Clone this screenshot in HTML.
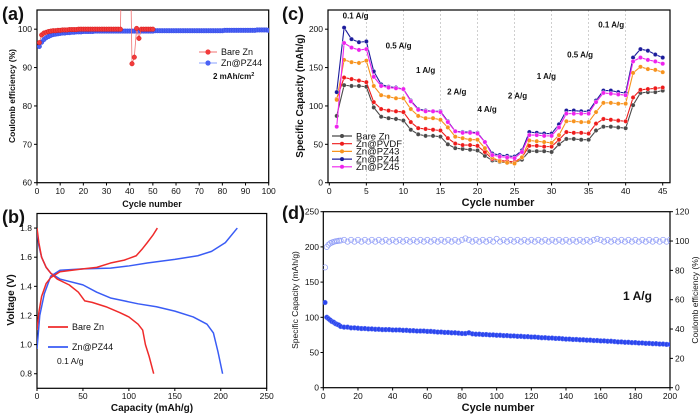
<!DOCTYPE html>
<html><head><meta charset="utf-8">
<style>
html,body{margin:0;padding:0;background:#fff;}
svg{display:block;font-family:"Liberation Sans",Arial,sans-serif;}
</style></head>
<body>
<svg id="fig" width="700" height="414" viewBox="0 0 700 414" xmlns="http://www.w3.org/2000/svg">
<defs>
<clipPath id="clipA"><rect x="37" y="10" width="232" height="173"/></clipPath>
<clipPath id="clipB"><rect x="37" y="213" width="230" height="175"/></clipPath>
<clipPath id="clipC"><rect x="329" y="10" width="341" height="173"/></clipPath>
<clipPath id="clipD"><rect x="323" y="211" width="347" height="177"/></clipPath>
</defs>
</svg>
<script>
// ---------- panel (a) data ----------
const aCyclesRed = [1,2,3,4,5,6,7,8,9,10,11,12,13,14,15,16,17,18,19,20,21,22,23,24,25,26,27,28,29,30,31,32,33,34,35,36,37,38,39,40,41,42,43,44,45,46,47,48,49,50];
const aBareCE = [96.5,98.5,99,99.2,99.4,99.5,99.6,99.6,99.7,99.7,99.8,99.8,99.8,99.9,99.9,99.9,99.9,100,100,100,100,100,100,100,100,100,100,100,100,100,100,100,100,100,100,100,130,130,130,130,91,92.7,100.2,97.6,100,100,100,100,100,100];
const aPZ44CE = [95.5,96.6,97.3,97.8,98.1,98.4,98.6,98.7,98.8,98.9,99.0,99.0,99.1,99.1,99.2,99.2,99.3,99.3,99.3,99.4,99.4,99.4,99.4,99.4,99.5,99.5,99.5,99.5,99.5,99.5,99.5,99.5,99.5,99.5,99.5,99.5,99.5,99.5,99.5,99.5,99.5,99.5,99.5,99.5,99.5,99.5,99.5,99.5,99.5,99.5,99.6,99.6,99.6,99.6,99.6,99.6,99.6,99.6,99.6,99.6,99.6,99.6,99.6,99.6,99.6,99.6,99.6,99.6,99.6,99.6,99.6,99.6,99.6,99.6,99.6,99.6,99.6,99.6,99.6,99.6,99.7,99.7,99.7,99.7,99.7,99.7,99.7,99.7,99.7,99.7,99.7,99.7,99.7,99.7,99.8,99.8,99.8,99.8,99.8,99.7];
const aXTicks = [0,10,20,30,40,50,60,70,80,90,100];
const aYTicks = [60,70,80,90,100];

// ---------- panel (b) data ----------
const bBareChgX = [0,2,5,10,15,25,50,65,80,95,108,115,120,126,131];
const bBareChgY = [1.1,1.22,1.33,1.42,1.46,1.5,1.52,1.53,1.56,1.58,1.61,1.66,1.7,1.75,1.8];
const bBareDisX = [0,2,5,10,15,22,35,45,52,60,75,90,100,110,115,118,122,127];
const bBareDisY = [1.8,1.7,1.6,1.53,1.49,1.45,1.41,1.36,1.3,1.29,1.26,1.22,1.19,1.14,1.1,1.0,0.92,0.8];
const bPZChgX = [0,3,8,15,25,50,80,100,120,150,175,190,205,218];
const bPZChgY = [0.97,1.2,1.35,1.47,1.51,1.52,1.525,1.54,1.56,1.585,1.61,1.64,1.7,1.8];
const bPZDisX = [0,2,5,10,15,25,50,65,80,95,110,130,150,170,185,192,197,202];
const bPZDisY = [1.78,1.68,1.6,1.53,1.49,1.45,1.41,1.36,1.32,1.3,1.28,1.26,1.23,1.19,1.14,1.08,0.95,0.8];
const bXTicks = [0,50,100,150,200,250];
const bYTicks = [0.8,1.0,1.2,1.4,1.6,1.8];

// ---------- panel (c) data ----------
const cSeriesNames = ["Bare Zn","Zn@PVDF","Zn@PZ43","Zn@PZ44","Zn@PZ45"];
const cBare = [87,127,126,126,125,98,86,84,83,81,69,63,61,61,60,50,45,44,43,42,35,29,27,26,26,30,41,41,41,40,50,57,57,56,56,68,73,73,72,71,101,117,118,118,120];
const cPVDF = [109,137,135,133,131,105,96,94,93,92,79,71,70,69,68,58,51,49,49,48,40,31,29,28,27,33,48,48,47,47,56,66,65,65,64,77,83,82,81,80,111,121,122,123,124];
const cPZ43 = [108,160,157,156,159,126,114,112,110,110,96,87,84,84,82,72,60,58,56,56,45,33,28,26,25,33,55,54,53,52,62,80,80,79,79,92,104,104,103,103,143,151,148,147,144];
const cPZ44 = [118,202,187,183,184,145,128,125,124,122,107,96,94,93,93,80,67,66,66,65,53,38,36,35,34,42,66,65,64,64,76,94,94,93,93,107,120,120,118,117,163,174,172,167,163];
const cPZ45 = [73,182,176,173,174,138,126,124,123,122,106,95,93,93,92,79,67,65,65,64,53,36,34,33,32,40,62,62,61,61,72,90,90,90,90,105,117,116,115,114,158,163,160,158,155];
const cXTicks = [0,5,10,15,20,25,30,35,40,45];
const cYTicks = [0,50,100,150,200];
const cRateLabels = ["0.1 A/g","0.5 A/g","1 A/g","2 A/g","4 A/g","2 A/g","1 A/g","0.5 A/g","0.1 A/g"];
const cRateX = [1.8,7.6,11.7,15.9,20,24.1,28,32.1,36.3];
const cRateY = [214,175,143,115,92,110,135,163,202];

// ---------- panel (d) data ----------
const dCycles = [1,2,3,4,5,6,7,8,9,10,12,14,16,18,20,22,24,26,28,30,32,34,36,38,40,42,44,46,48,50,52,54,56,58,60,62,64,66,68,70,72,74,76,78,80,82,84,86,88,90,92,94,96,98,100,102,104,106,108,110,112,114,116,118,120,122,124,126,128,130,132,134,136,138,140,142,144,146,148,150,152,154,156,158,160,162,164,166,168,170,172,174,176,178,180,182,184,186,188,190,192,194,196,198,200];
const dCap = [121,100,98,96,94,93,91,90,89,87,86,86,85,85,84.5,84,84,83.5,83.5,83,83,82.5,82.5,82.5,82,82,82,81.5,81.5,81,81,80.5,80.5,80.5,80,80,79.5,79,79,78.5,78.5,78,78,77.5,77,77,78,76.5,76,76,75.5,75.5,75,75,74.5,74.5,74,74,73.5,73.5,73,73,72.5,72.5,72,72,71.5,71,71,70.5,70.5,70,70,69.5,69,69,68.5,68.5,68,68,67.5,67.5,67,67,66.5,66.5,66,66,65.5,65,65,64.5,64.5,64,64,63.5,63.5,63,63,62.5,62.5,62,62,61.5,61.5];
const dCE = [82,96,97.5,98.5,99,99.5,99.8,100,100.2,100.3,100.8,99.6,100.8,99.6,100.8,99.6,100.8,99.6,100.8,99.6,100.8,99.6,100.8,99.6,100.8,99.6,100.8,99.6,100.8,99.6,100.8,99.6,100.8,99.6,100.8,99.6,100.8,99.6,100.8,99.6,100.8,99.6,100.8,99.6,100.8,101.8,100.8,99.6,100.8,99.6,100.8,99.6,100.8,99.6,101.5,99.6,100.8,99.6,100.8,99.6,100.8,99.6,100.8,99.6,100.8,99.6,100.8,99.6,100.8,99.6,100.8,99.6,100.8,99.6,100.8,99.6,100.8,99.6,100.8,99.6,100.8,99.6,100.8,101.5,100.8,99.6,100.8,99.6,100.8,99.6,100.8,99.6,100.8,99.6,100.8,99.6,100.8,99.6,100.8,99.6,100.8,99.6,100.8,99.6,100.8];
const dXTicks = [0,20,40,60,80,100,120,140,160,180,200];
const dYTicks = [0,50,100,150,200,250];
const dY2Ticks = [0,20,40,60,80,100,120];

// ---------- helpers ----------
const NS = "http://www.w3.org/2000/svg";
const fig = document.getElementById("fig");
const TF = 8.5;
function el(tag, attrs, parent) {
  const e = document.createElementNS(NS, tag);
  for (const k in attrs) e.setAttribute(k, attrs[k]);
  (parent || fig).appendChild(e);
  return e;
}
function txt(s, x, y, size, weight, anchor, parent, rot) {
  const t = el("text", {x: x, y: y, "font-size": size, "font-weight": weight || "normal", "text-anchor": anchor || "middle", fill: "#111"}, parent);
  if (rot) t.setAttribute("transform", "rotate(" + rot + " " + x + " " + y + ")");
  t.textContent = s;
  return t;
}
function lin(d0, d1, p0, p1) { return v => p0 + (v - d0) * (p1 - p0) / (d1 - d0); }
function pathD(xs, ys, X, Y) {
  return xs.map((v, i) => (i ? "L" : "M") + X(v).toFixed(2) + " " + Y(ys[i]).toFixed(2)).join(" ");
}

// ================= PANEL A =================
{
  const g = el("g", {});
  
  
  const X = lin(0, 100, 37, 268.7), Y = lin(60, 105, 182.7, 10);
  const lab = txt("(a)", 2, 20, 18, "bold", "start", g);
  
  
  const fr = el("rect", {x: 37, y: 10, width: 231.7, height: 172.7, fill: "none", stroke: "#000", "stroke-width": 1.2}, g);
  
  
  aXTicks.forEach(v => {
    const t = el("line", {x1: X(v), x2: X(v), y1: 182.7, y2: 185.5, stroke: "#000"}, g);
    
    
    const l = txt(String(v), X(v), 194, TF, "normal", "middle", g);
    
    
  });
  aYTicks.forEach(v => {
    const t = el("line", {x1: 34, x2: 37, y1: Y(v), y2: Y(v), stroke: "#000"}, g);
    
    
    const l = txt(String(v), 32, Y(v) + 3, TF, "normal", "end", g);
    
    
  });
  const xt = txt("Cycle number", 152, 207, 9, "bold", "middle", g);
  
  
  const yt = txt("Coulomb efficiency (%)", 15, 96, 8.5, "bold", "middle", g, -90);
  
  
  const cg = el("g", {"clip-path": "url(#clipA)"}, g);
  const blueLine = el("path", {d: pathD(aPZ44CE.map((v, i) => i + 1), aPZ44CE, X, Y), fill: "none", stroke: "#8aa0ff", "stroke-width": 0.8}, cg);
  
  
  aPZ44CE.forEach((v, i) => {
    const c = el("circle", {cx: X(i + 1), cy: Y(v), r: 2.3, fill: "#4a62f5", stroke: "#2a3ee0", "stroke-width": 0.4}, cg);
    
    
  });
  const redLine = el("path", {d: pathD(aCyclesRed, aBareCE, X, Y), fill: "none", stroke: "#f07070", "stroke-width": 0.8}, cg);
  
  
  aBareCE.forEach((v, i) => {
    const c = el("circle", {cx: X(aCyclesRed[i]), cy: Y(v), r: 2.3, fill: "#f23b3b", stroke: "#d01010", "stroke-width": 0.4}, cg);
    
    
  });
  const lg = el("g", {}, g);
  
  
  [["Bare Zn", "#f23b3b", "#f07070", 52], ["Zn@PZ44", "#4a62f5", "#8aa0ff", 63]].forEach(e => {
    const ent = el("g", {}, lg);
    
    
    el("line", {x1: 199, x2: 217, y1: e[3], y2: e[3], stroke: e[2], "stroke-width": 1}, ent);
    el("circle", {cx: 208, cy: e[3], r: 2.6, fill: e[1]}, ent);
    txt(e[0], 221, e[3] + 3, 9, "normal", "start", ent);
  });
  const note = txt("2 mAh/cm", 213, 79, 8, "bold", "start", g);
  
  
  const sup = el("tspan", {dy: -3, "font-size": 5.5}, note);
  sup.textContent = "2";
}

// ================= PANEL B =================
{
  const g = el("g", {});
  
  
  const X = lin(0, 250, 37, 266.7), Y = lin(0.7, 1.9, 388.3, 213.5);
  const lab = txt("(b)", 2, 223, 18, "bold", "start", g);
  
  
  const fr = el("rect", {x: 37, y: 213.5, width: 229.7, height: 174.8, fill: "none", stroke: "#000", "stroke-width": 1.2}, g);
  
  
  bXTicks.forEach(v => {
    const t = el("line", {x1: X(v), x2: X(v), y1: 388.3, y2: 391, stroke: "#000"}, g);
    
    
    const l = txt(String(v), X(v), 399, TF, "normal", "middle", g);
    
    
  });
  bYTicks.forEach(v => {
    const t = el("line", {x1: 34, x2: 37, y1: Y(v), y2: Y(v), stroke: "#000"}, g);
    
    
    const l = txt(v.toFixed(1), 32, Y(v) + 3, TF, "normal", "end", g);
    
    
  });
  const xt = txt("Capacity (mAh/g)", 152, 411, 10, "bold", "middle", g);
  
  
  const yt = txt("Voltage (V)", 14, 300, 10, "bold", "middle", g, -90);
  
  
  const cg = el("g", {"clip-path": "url(#clipB)"}, g);
  [[bPZChgX, bPZChgY, "#3a5cf5", "zn-pz44-charge"], [bPZDisX, bPZDisY, "#3a5cf5", "zn-pz44-discharge"],
   [bBareChgX, bBareChgY, "#ef2b2b", "bare-zn-charge"], [bBareDisX, bBareDisY, "#ef2b2b", "bare-zn-discharge"]].forEach(s => {
    const p = el("path", {d: pathD(s[0], s[1], X, Y), fill: "none", stroke: s[2], "stroke-width": 1.5, "stroke-linejoin": "round"}, cg);
    
    
  });
  const lg = el("g", {}, g);
  
  
  [["Bare Zn", "#ef2b2b", 327], ["Zn@PZ44", "#3a5cf5", 347]].forEach(e => {
    const ent = el("g", {}, lg);
    
    
    el("line", {x1: 48, x2: 68, y1: e[2], y2: e[2], stroke: e[1], "stroke-width": 1.8}, ent);
    txt(e[0], 72, e[2] + 3, 9, "normal", "start", ent);
  });
  const note = txt("0.1 A/g", 57, 364, 8.5, "normal", "start", g);
  
  
}

// ================= PANEL C =================
{
  const g = el("g", {});
  
  
  const X = lin(0, 45, 329.3, 662.7), Y = lin(0, 225, 182.7, 10);
  const lab = txt("(c)", 282, 20, 18, "bold", "start", g);
  
  
  [5,10,15,20,25,30,35,40].forEach(v => {
    const d = el("line", {x1: X(v), x2: X(v), y1: 10, y2: 182.7, stroke: "#bbb", "stroke-width": 0.7, "stroke-dasharray": "2,2"}, g);
    
    
  });
  const fr = el("rect", {x: 328, y: 10, width: 342, height: 172.7, fill: "none", stroke: "#000", "stroke-width": 1.2}, g);
  
  
  cXTicks.forEach(v => {
    const t = el("line", {x1: X(v), x2: X(v), y1: 182.7, y2: 185.5, stroke: "#000"}, g);
    
    
    const l = txt(String(v), X(v), 194, TF, "normal", "middle", g);
    
    
  });
  cYTicks.forEach(v => {
    const t = el("line", {x1: 325, x2: 328, y1: Y(v), y2: Y(v), stroke: "#000"}, g);
    
    
    const l = txt(String(v), 323, Y(v) + 3, TF, "normal", "end", g);
    
    
  });
  const xt = txt("Cycle number", 498, 206, 11, "bold", "middle", g);
  
  
  const yt = txt("Specific Capacity (mAh/g)", 303, 96, 10, "bold", "middle", g, -90);
  
  
  const cg = el("g", {"clip-path": "url(#clipC)"}, g);
  const series = [[cBare, "#4a4a4a"], [cPVDF, "#ee1c1c"], [cPZ43, "#f7931e"], [cPZ44, "#1c1c9c"], [cPZ45, "#ee22ee"]];
  const cyc = cBare.map((v, i) => i + 1);
  series.forEach((s, si) => {
    const p = el("path", {d: pathD(cyc, s[0], X, Y), fill: "none", stroke: s[1], "stroke-width": 1.1}, cg);
    
    
    s[0].forEach((v, i) => {
      const c = el("circle", {cx: X(i + 1), cy: Y(v), r: 2.2, fill: s[1], stroke: "#fff", "stroke-width": 0.4}, cg);
      
      
    });
  });
  cRateLabels.forEach((s, i) => {
    const t = txt(s, X(cRateX[i]), Y(cRateY[i]), 8, "bold", "start", g);
    
    
  });
  const lg = el("g", {}, g);
  
  
  series.forEach((s, i) => {
    const yy = 136 + i * 7.7;
    const ent = el("g", {}, lg);
    
    
    el("line", {x1: 332, x2: 352, y1: yy, y2: yy, stroke: s[1], "stroke-width": 1.2}, ent);
    el("circle", {cx: 342, cy: yy, r: 2, fill: s[1]}, ent);
    txt(cSeriesNames[i], 356, yy + 3.3, 9.5, "normal", "start", ent);
  });
}

// ================= PANEL D =================
{
  const g = el("g", {});
  
  
  const X = lin(0, 200, 323.3, 670), Y = lin(0, 250, 387.7, 211.7), Y2 = lin(0, 120, 387.7, 211.7);
  const lab = txt("(d)", 282, 219, 18, "bold", "start", g);
  
  
  const fr = el("rect", {x: 323.3, y: 211.7, width: 346.7, height: 176, fill: "none", stroke: "#000", "stroke-width": 1.2}, g);
  
  
  dXTicks.forEach(v => {
    const t = el("line", {x1: X(v), x2: X(v), y1: 387.7, y2: 390.5, stroke: "#000"}, g);
    
    
    const l = txt(String(v), X(v), 399, TF, "normal", "middle", g);
    
    
  });
  dYTicks.forEach(v => {
    const t = el("line", {x1: 320.5, x2: 323.3, y1: Y(v), y2: Y(v), stroke: "#000"}, g);
    
    
    const l = txt(String(v), 319, Y(v) + 3, TF, "normal", "end", g);
    
    
  });
  dY2Ticks.forEach(v => {
    const t = el("line", {x1: 670, x2: 673, y1: Y2(v), y2: Y2(v), stroke: "#000"}, g);
    
    
    const l = txt(String(v), 675, Y2(v) + 3, TF, "normal", "start", g);
    
    
  });
  const xt = txt("Cycle number", 498, 411, 11, "bold", "middle", g);
  
  
  const yt = txt("Specific Capacity (mAh/g)", 298, 300, 8.5, "normal", "middle", g, -90);
  
  
  const yt2 = txt("Coulomb efficiency (%)", 698, 300, 8.5, "normal", "middle", g, -90);
  
  
  const cg = el("g", {"clip-path": "url(#clipD)"}, g);
  dCE.forEach((v, i) => {
    const c = el("circle", {cx: X(dCycles[i]), cy: Y2(v), r: 2.6, fill: "none", stroke: "#8f9cf7", "stroke-width": 0.7}, cg);
    
    
  });
  dCap.forEach((v, i) => {
    const c = el("circle", {cx: X(dCycles[i]), cy: Y(v), r: 2.4, fill: "#2a45ee", stroke: "#6b7ef5", "stroke-width": 0.5}, cg);
    
    
  });
  const note = txt("1 A/g", 623, 300, 12, "bold", "start", g);
  
  
}
</script>
</body></html>
